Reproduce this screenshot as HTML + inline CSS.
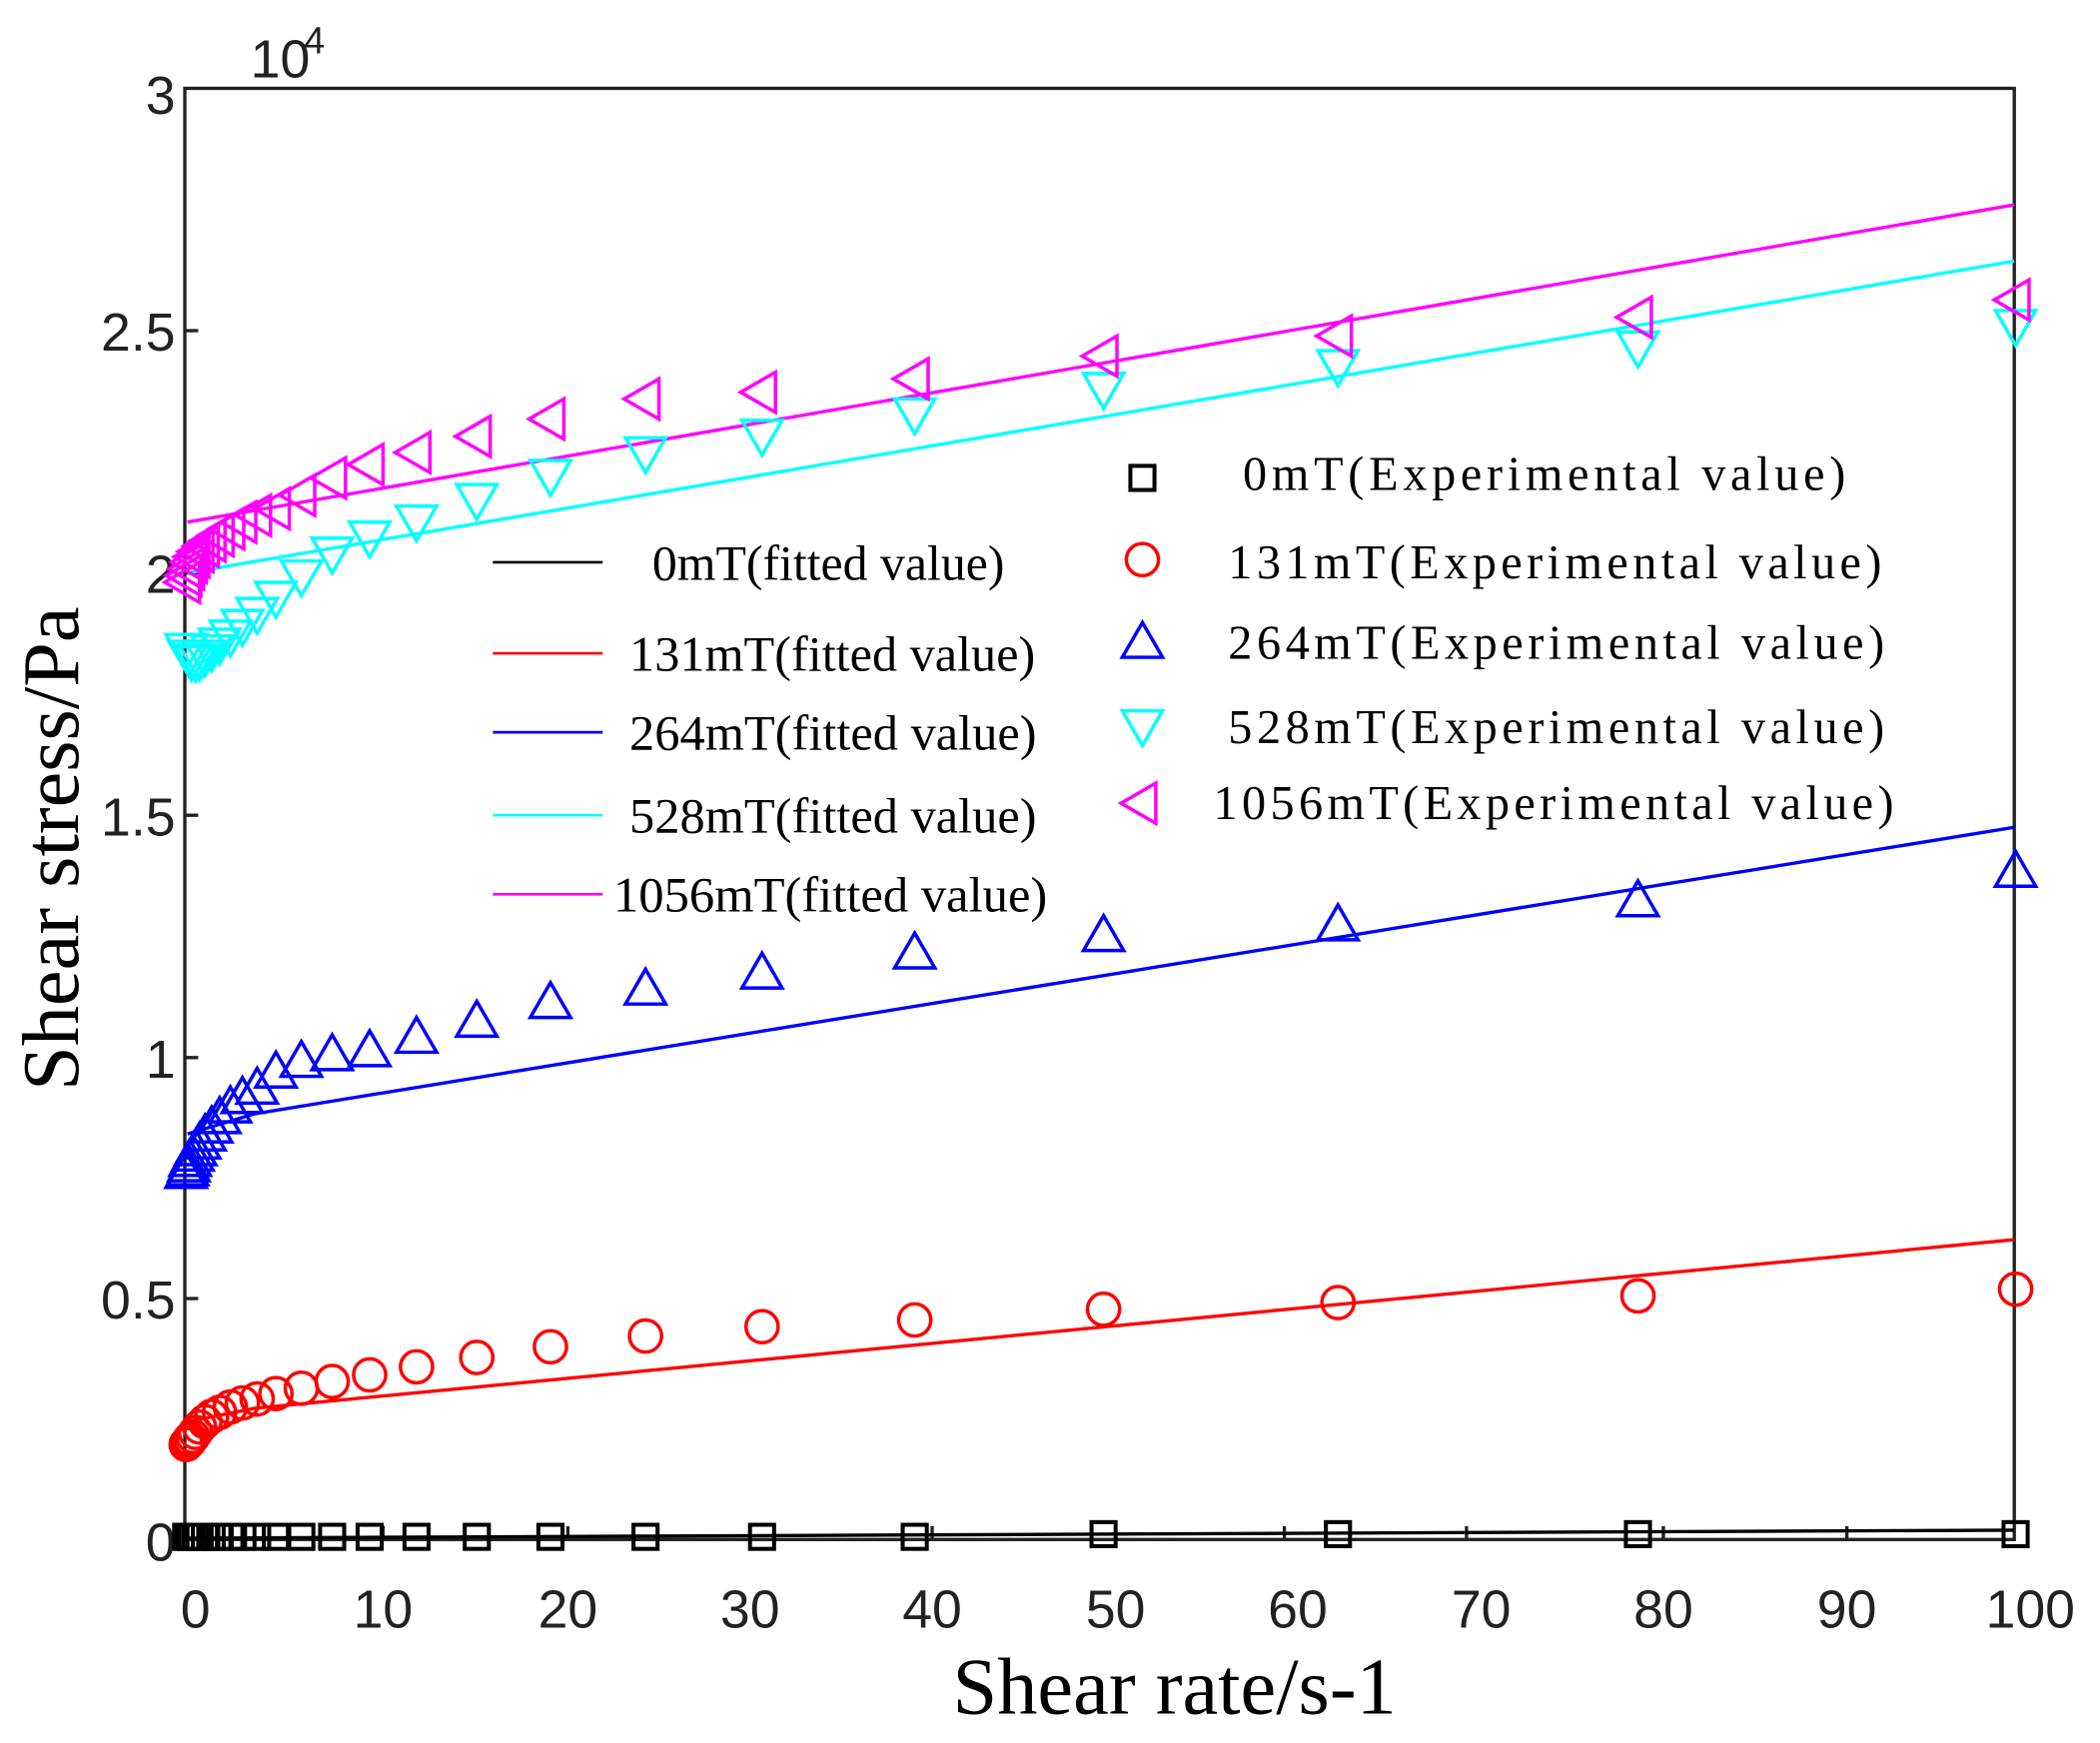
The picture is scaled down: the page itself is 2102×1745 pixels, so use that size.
<!DOCTYPE html>
<html><head><meta charset="utf-8"><style>html,body{margin:0;padding:0;background:#fff}svg{display:block}</style></head>
<body>
<svg width="2102" height="1745" viewBox="0 0 1568 1302" preserveAspectRatio="none" xmlns="http://www.w3.org/2000/svg">
<defs>
<rect id="sq" x="-9" y="-9" width="18" height="18" fill="none" stroke="#000" stroke-width="3"/>
<circle id="ci" r="12" fill="none" stroke="#f00" stroke-width="2.6"/>
<path id="tu" d="M0,-16 L15,10 L-15,10 Z" fill="none" stroke="#00f" stroke-width="2.6"/>
<path id="td" d="M0,16 L15,-10 L-15,-10 Z" fill="none" stroke="#0ff" stroke-width="2.6"/>
<path id="tl" d="M-16,0 L10,-15 L10,15 Z" fill="none" stroke="#f0f" stroke-width="2.6"/>
</defs>
<rect width="1568" height="1302" fill="#fff"/>
<rect x="138" y="66" width="1366" height="1084" fill="none" stroke="#222" stroke-width="2.5"/>
<g stroke="#222" stroke-width="2.5">
<line x1="138" y1="247" x2="148" y2="247"/><line x1="138" y1="428" x2="148" y2="428"/><line x1="138" y1="609" x2="148" y2="609"/><line x1="138" y1="790" x2="148" y2="790"/><line x1="138" y1="970" x2="148" y2="970"/>
<line x1="286" y1="1150" x2="286" y2="1140"/><line x1="424" y1="1150" x2="424" y2="1140"/><line x1="560" y1="1150" x2="560" y2="1140"/><line x1="696" y1="1150" x2="696" y2="1140"/><line x1="833" y1="1150" x2="833" y2="1140"/><line x1="959" y1="1150" x2="959" y2="1140"/><line x1="1095" y1="1150" x2="1095" y2="1140"/><line x1="1242" y1="1150" x2="1242" y2="1140"/><line x1="1379" y1="1150" x2="1379" y2="1140"/>
</g>
<g font-family="Liberation Sans, sans-serif" font-size="40" fill="#222">
<g text-anchor="end">
<text x="131" y="1166">0</text><text x="131" y="985">0.5</text><text x="131" y="805">1</text><text x="131" y="624">1.5</text><text x="131" y="443">2</text><text x="131" y="262">2.5</text><text x="131" y="85">3</text>
</g>
<g text-anchor="middle">
<text x="146" y="1216">0</text><text x="286" y="1216">10</text><text x="424" y="1216">20</text><text x="560" y="1216">30</text><text x="696" y="1216">40</text><text x="833" y="1216">50</text><text x="969" y="1216">60</text><text x="1106" y="1216">70</text><text x="1242" y="1216">80</text><text x="1379" y="1216">90</text><text x="1516" y="1216">100</text>
</g>
<text x="187" y="58">10</text><text x="227" y="40" font-size="28">4</text>
</g>
<text x="877" y="1280" text-anchor="middle" font-family="Liberation Serif, serif" font-size="60" fill="#000">Shear rate/s-1</text>
<text transform="translate(58,634) rotate(-90)" text-anchor="middle" font-family="Liberation Serif, serif" font-size="60" fill="#000">Shear stress/Pa</text>
<g fill="none" stroke-width="2.5">
<polyline stroke="#000" points="140,1149 1504,1143"/>
<polyline stroke="#f00" points="140,1062 190,1052 1504,926"/>
<polyline stroke="#00f" points="140,847 190,832 1504,618"/>
<polyline stroke="#0ff" points="140,428 1504,195"/>
<polyline stroke="#f0f" points="140,390 1504,153"/>
</g>
<g>
<use href="#sq" x="139" y="1148"/><use href="#sq" x="141" y="1148"/><use href="#sq" x="143" y="1148"/><use href="#sq" x="146" y="1148"/><use href="#sq" x="149" y="1148"/><use href="#sq" x="153" y="1148"/><use href="#sq" x="158" y="1148"/><use href="#sq" x="164" y="1148"/><use href="#sq" x="172" y="1148"/><use href="#sq" x="181" y="1148"/><use href="#sq" x="192" y="1148"/><use href="#sq" x="206" y="1148"/><use href="#sq" x="225" y="1148"/><use href="#sq" x="248" y="1148"/><use href="#sq" x="276" y="1148"/><use href="#sq" x="311" y="1148"/><use href="#sq" x="356" y="1148"/><use href="#sq" x="411" y="1148"/><use href="#sq" x="482" y="1148"/><use href="#sq" x="569" y="1148"/><use href="#sq" x="683" y="1148"/><use href="#sq" x="824" y="1146"/><use href="#sq" x="999" y="1146"/><use href="#sq" x="1223" y="1146"/><use href="#sq" x="1505" y="1146"/>
</g>
<g>
<use href="#ci" x="139" y="1079"/><use href="#ci" x="140" y="1078"/><use href="#ci" x="141" y="1077"/><use href="#ci" x="142" y="1075"/><use href="#ci" x="144" y="1073"/><use href="#ci" x="146" y="1070"/><use href="#ci" x="149" y="1066"/><use href="#ci" x="153" y="1062"/><use href="#ci" x="158" y="1058"/><use href="#ci" x="164" y="1055"/><use href="#ci" x="172" y="1051"/><use href="#ci" x="181" y="1048"/><use href="#ci" x="192" y="1045"/><use href="#ci" x="206" y="1041"/><use href="#ci" x="225" y="1037"/><use href="#ci" x="248" y="1032"/><use href="#ci" x="276" y="1027"/><use href="#ci" x="311" y="1021"/><use href="#ci" x="356" y="1014"/><use href="#ci" x="411" y="1006"/><use href="#ci" x="482" y="998"/><use href="#ci" x="569" y="991"/><use href="#ci" x="683" y="986"/><use href="#ci" x="824" y="978"/><use href="#ci" x="999" y="973"/><use href="#ci" x="1223" y="968"/><use href="#ci" x="1505" y="963"/>
</g>
<g>
<use href="#tu" x="139" y="877"/><use href="#tu" x="140" y="875"/><use href="#tu" x="141" y="872"/><use href="#tu" x="142" y="868"/><use href="#tu" x="144" y="864"/><use href="#tu" x="146" y="860"/><use href="#tu" x="149" y="855"/><use href="#tu" x="153" y="849"/><use href="#tu" x="158" y="843"/><use href="#tu" x="164" y="836"/><use href="#tu" x="172" y="828"/><use href="#tu" x="181" y="821"/><use href="#tu" x="192" y="814"/><use href="#tu" x="206" y="802"/><use href="#tu" x="225" y="794"/><use href="#tu" x="248" y="789"/><use href="#tu" x="276" y="786"/><use href="#tu" x="311" y="776"/><use href="#tu" x="356" y="764"/><use href="#tu" x="411" y="750"/><use href="#tu" x="482" y="740"/><use href="#tu" x="569" y="728"/><use href="#tu" x="683" y="713"/><use href="#tu" x="824" y="700"/><use href="#tu" x="999" y="692"/><use href="#tu" x="1223" y="674"/><use href="#tu" x="1505" y="652"/>
</g>
<g>
<use href="#td" x="139" y="484"/><use href="#td" x="141" y="489"/><use href="#td" x="143" y="492"/><use href="#td" x="146" y="493"/><use href="#td" x="149" y="492"/><use href="#td" x="153" y="489"/><use href="#td" x="158" y="485"/><use href="#td" x="164" y="480"/><use href="#td" x="172" y="474"/><use href="#td" x="181" y="466"/><use href="#td" x="192" y="457"/><use href="#td" x="206" y="445"/><use href="#td" x="225" y="429"/><use href="#td" x="248" y="412"/><use href="#td" x="276" y="400"/><use href="#td" x="311" y="388"/><use href="#td" x="356" y="372"/><use href="#td" x="411" y="354"/><use href="#td" x="482" y="337"/><use href="#td" x="569" y="324"/><use href="#td" x="683" y="308"/><use href="#td" x="824" y="289"/><use href="#td" x="999" y="272"/><use href="#td" x="1223" y="258"/><use href="#td" x="1505" y="242"/>
</g>
<g>
<use href="#tl" x="139" y="435"/><use href="#tl" x="140" y="430"/><use href="#tl" x="142" y="425"/><use href="#tl" x="144" y="420"/><use href="#tl" x="146" y="416"/><use href="#tl" x="149" y="412"/><use href="#tl" x="153" y="408"/><use href="#tl" x="158" y="404"/><use href="#tl" x="164" y="400"/><use href="#tl" x="172" y="395"/><use href="#tl" x="181" y="390"/><use href="#tl" x="192" y="385"/><use href="#tl" x="206" y="380"/><use href="#tl" x="225" y="370"/><use href="#tl" x="248" y="357"/><use href="#tl" x="276" y="347"/><use href="#tl" x="311" y="338"/><use href="#tl" x="356" y="326"/><use href="#tl" x="411" y="313"/><use href="#tl" x="482" y="298"/><use href="#tl" x="569" y="293"/><use href="#tl" x="683" y="283"/><use href="#tl" x="824" y="266"/><use href="#tl" x="999" y="251"/><use href="#tl" x="1223" y="237"/><use href="#tl" x="1505" y="224"/>
</g>
<g stroke-width="2">
<line x1="368" y1="420" x2="450" y2="420" stroke="#000"/>
<line x1="368" y1="488" x2="450" y2="488" stroke="#f00"/>
<line x1="368" y1="547" x2="450" y2="547" stroke="#00f"/>
<line x1="368" y1="609" x2="450" y2="609" stroke="#0ff"/>
<line x1="368" y1="668" x2="450" y2="668" stroke="#f0f"/>
</g>
<g font-family="Liberation Serif, serif" font-size="37" fill="#000">
<text x="487" y="433" textLength="263" lengthAdjust="spacingAndGlyphs">0mT(fitted value)</text>
<text x="470" y="501" textLength="303" lengthAdjust="spacingAndGlyphs">131mT(fitted value)</text>
<text x="470" y="560" textLength="304" lengthAdjust="spacingAndGlyphs">264mT(fitted value)</text>
<text x="470" y="622" textLength="304" lengthAdjust="spacingAndGlyphs">528mT(fitted value)</text>
<text x="458" y="681" textLength="324" lengthAdjust="spacingAndGlyphs">1056mT(fitted value)</text>
</g>
<use href="#sq" x="853" y="357"/>
<use href="#ci" x="853" y="418"/>
<use href="#tu" x="853" y="481"/>
<use href="#td" x="853" y="541"/>
<use href="#tl" x="853" y="600"/>
<g font-family="Liberation Serif, serif" font-size="36" fill="#000">
<text x="928" y="366" textLength="450" lengthAdjust="spacing">0mT(Experimental value)</text>
<text x="917" y="432" textLength="488" lengthAdjust="spacing">131mT(Experimental value)</text>
<text x="917" y="492" textLength="490" lengthAdjust="spacing">264mT(Experimental value)</text>
<text x="917" y="555" textLength="490" lengthAdjust="spacing">528mT(Experimental value)</text>
<text x="906" y="612" textLength="508" lengthAdjust="spacing">1056mT(Experimental value)</text>
</g>
</svg>
</body></html>
